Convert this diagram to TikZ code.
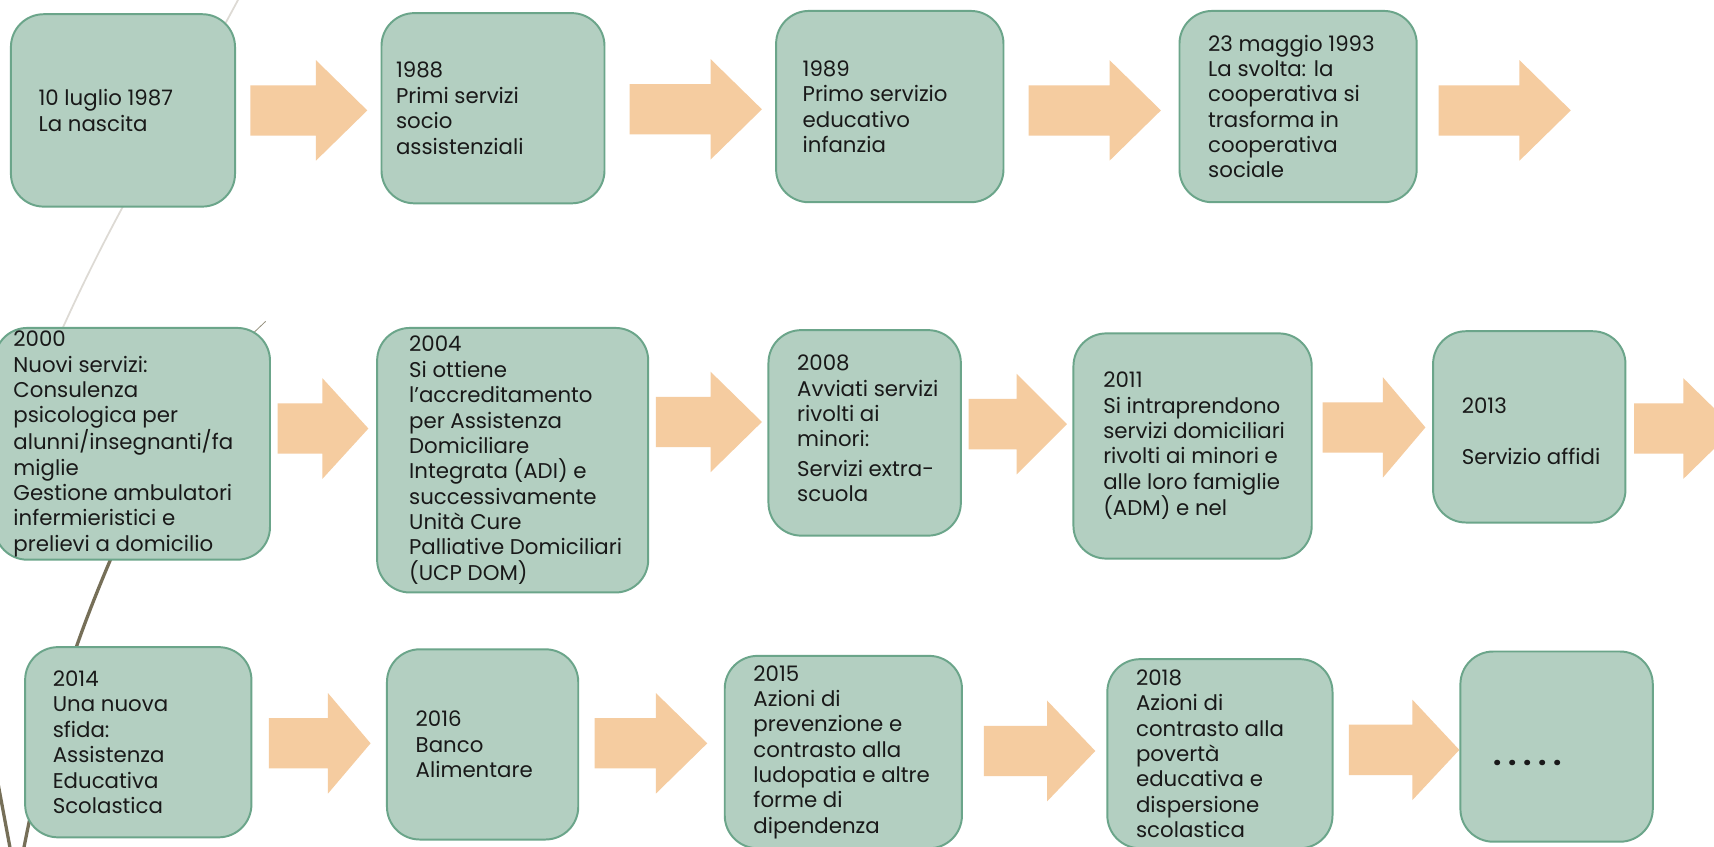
\documentclass[tikz,border=0pt]{standalone}
\usepackage{fontspec}
\setmainfont{Poppins}
\usetikzlibrary{positioning}
\hyphenpenalty=10000
\exhyphenpenalty=10000

\definecolor{sage}{HTML}{B3CFC1}
\definecolor{sageline}{HTML}{6BA58A}
\definecolor{peach}{HTML}{F5CCA0}
\definecolor{stem}{HTML}{766F58}
\definecolor{twig}{HTML}{DDDAD4}

\tikzset{
  tappa/.style={draw=sageline, fill=sage, line width=1.8pt, rounded corners=30pt},
  testo/.style={inner sep=0pt, align=left, text=black!90, font=\fontsize{19.5}{23.2}\selectfont},
  freccia/.style={fill=peach},
}

\begin{document}
\begin{tikzpicture}[x=1pt, y=-1pt]
\useasboundingbox (0,0) rectangle (1568,774);
\clip (0,0) rectangle (1568,774);
\fill[white] (0,0) rectangle (1568,774);

\draw[twig, line width=1.6pt] (222,-8) to[out=-118, in=66] (52,312);
\draw[stem!80, line width=0.7pt] (224,312) -- (243,294);
\draw[stem, line width=3pt] (115,480) to[out=-114, in=79] (19,790);
\draw[stem, line width=3pt] (-4,705) -- (10,780);

\foreach \n/\x/\y/\w/\h in {b1987/112.5/101/205/176, b1988/451/99/204/174, b1989/814/97.5/208/175, b1993/1187.5/97.5/217/175,
  b2000/121/406/252/212, b2004/469/421/248/242, b2008/791/396/176/188, b2011/1091/408/218/206, b2013/1399/390.5/176/175,
  b2014/126.5/679/207/174, b2016/441.5/681/175/174, b2015/771.5/688/217/176, b2018/1116/689.5/206/173, bpunti/1424/683/176/174}
  \node[tappa, minimum width=\w, minimum height=\h] (\n) at (\x,\y) {};

\node[testo, right=26pt of b1987.west] (t1987) {10 luglio 1987\\La nascita};
\node[testo, right=14pt of b1988.west] (t1988) {1988\\Primi servizi\\socio\\assistenziali};
\node[testo, right=25pt of b1989.west] (t1989) {1989\\Primo servizio\\educativo\\infanzia};
\node[testo, right=27pt of b1993.west] (t1993) {23 maggio 1993\\La svolta: la\\cooperativa si\\trasforma in\\cooperativa\\sociale};
\node[testo, right=18pt of b2000.west] (t2000) {2000\\Nuovi servizi:\\Consulenza\\psicologica per\\alunni/insegnanti/fa\\miglie\\Gestione ambulatori\\infermieristici e\\prelievi a domicilio};
\node[testo, right=30pt of b2004.west] (t2004) {2004\\Si ottiene\\l’accreditamento\\per Assistenza\\Domiciliare\\Integrata (ADI) e\\successivamente\\Unità Cure\\Palliative Domiciliari\\(UCP DOM)};
\node[testo, right=27pt of b2008.west, yshift=4pt] (t2008) {2008\\Avviati servizi\\rivolti ai\\minori:\\[4pt]Servizi extra-\\scuola};
\node[testo, right=28pt of b2011.west] (t2011) {2011\\Si intraprendono\\servizi domiciliari\\rivolti ai minori e\\alle loro famiglie\\(ADM) e nel};
\node[testo, right=27pt of b2013.west, yshift=-4pt] (t2013) {2013\\[23.2pt]Servizio affidi};
\node[testo, right=26pt of b2014.west] (t2014) {2014\\Una nuova\\sfida:\\Assistenza\\Educativa\\Scolastica};
\node[testo, right=27pt of b2016.west] (t2016) {2016\\Banco\\Alimentare};
\node[testo, right=27pt of b2015.west] (t2015) {2015\\Azioni di\\prevenzione e\\contrasto alla\\ludopatia e altre\\forme di\\dipendenza};
\node[testo, right=27pt of b2018.west] (t2018) {2018\\Azioni di\\contrasto alla\\povertà\\educativa e\\dispersione\\scolastica};
\node[testo, right=31pt of bpunti.west, yshift=-15pt, font=\fontsize{27}{27}\selectfont] (tpunti) {\textbf{.\hspace{6pt}.\hspace{6pt}.\hspace{6pt}.\hspace{6pt}.}};

\foreach \l/\h/\t/\c in {229/289/336/101, 576/650/697/100, 941/1015/1062/101, 1316/1390/1437/101,
  254/295/337/392, 600/650/697/386, 886/930/976/388, 1210/1265/1304/391, 1495/1540/1587/392,
  246/300/339/680, 544/600/647/680, 900/958/1002/687, 1234/1292/1335/686}
  \fill[freccia] (\l,\c-23) -- (\h,\c-23) -- (\h,\c-46) -- (\t,\c) -- (\h,\c+46) -- (\h,\c+23) -- (\l,\c+23) -- cycle;
\end{tikzpicture}
\end{document}
